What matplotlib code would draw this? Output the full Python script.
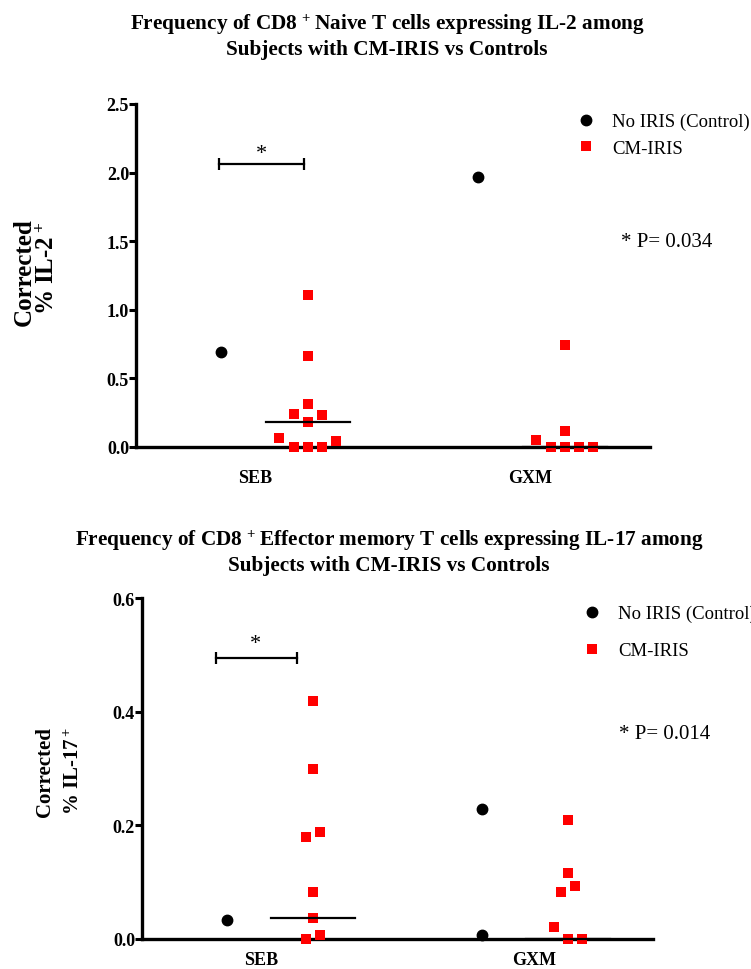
import numpy as np
import matplotlib
matplotlib.use("Agg")
import matplotlib.pyplot as plt

plt.rcParams['font.family'] = ['Liberation Serif', 'DejaVu Serif']
plt.rcParams['mathtext.default'] = 'regular'

# data
groups = ["SEB", "GXM"]

il2_control = [[0.69], [1.97]]
il2_iris = [[1.11, 0.66, 0.31, 0.24, 0.23, 0.18, 0.065, 0.045, 0.0, 0.0, 0.0],
            [0.74, 0.12, 0.05, 0.0, 0.0, 0.0, 0.0]]
il2_median = [0.18, 0.0]

il17_control = [[0.033], [0.229, 0.007]]
il17_iris = [[0.419, 0.30, 0.188, 0.18, 0.083, 0.037, 0.007, 0.0],
             [0.21, 0.116, 0.094, 0.083, 0.021, 0.0, 0.0]]
il17_median = [0.037, 0.0]


def swarm(vals, center, span, slot=0.055, thr=0.04):
    # rough graphpad-like column scatter: rows of close values spread sideways
    vals = np.asarray(vals, float)
    order = np.argsort(vals, kind="stable")
    rows = []
    for i in order:
        if rows and vals[i] - vals[rows[-1][0]] < thr * span:
            rows[-1].append(i)
        else:
            rows.append([i])
    xs = np.zeros(len(vals))
    for row in rows:
        n = len(row)
        if n % 2:
            slots = [0, 1, -1, 2, -2, 3, -3][:n]
        else:
            slots = [-0.5, 0.5, -1.5, 1.5, -2.5, 2.5][:n]
        for i, s in zip(row, slots):
            xs[i] = center + s * slot
    return xs


fig = plt.figure(figsize=(7.51, 9.70), dpi=100)

def px(x, y):
    return x / 751, 1 - y / 970


def panel(rect, ctrl, iris, med, ymax, yticks, ylabels, brk, star, ptxt, leg_y, xpad, lspace):
    ax = fig.add_axes(rect)
    ax.set_xlim(-0.5, 1.5)
    ax.set_ylim(0, ymax)
    off = 0.168
    for k in range(2):
        xc = swarm(ctrl[k], k - off, ymax)
        xi = swarm(iris[k], k + off, ymax)
        ax.plot(xc, ctrl[k], 'o', color='black', ms=7.5, clip_on=False, zorder=4,
                label="No IRIS (Control)" if k == 0 else None)
        ax.plot(xi, iris[k], 's', color='#ff0000', ms=7.5, mew=0, clip_on=False, zorder=4,
                label="CM-IRIS" if k == 0 else None)
        ax.plot([k + off - 0.164, k + off + 0.164], [med[k], med[k]], color='black',
                lw=1.6, zorder=5, clip_on=False)
    # significance bracket
    ax.plot(brk[0], [brk[1], brk[1]], color='black', lw=1.6, marker='|', ms=8, mew=1.6,
            clip_on=False)
    ax.text(star[0], star[1], "*", ha='center', va='center', fontsize=16)
    ax.text(ptxt[0], ptxt[1], ptxt[2], ha='left', va='center', fontsize=15)

    for s in ['top', 'right']:
        ax.spines[s].set_visible(False)
    for s in ['left', 'bottom']:
        ax.spines[s].set_linewidth(2.4)
    ax.set_yticks(yticks)
    ax.set_yticklabels(ylabels, fontweight='bold', fontsize=13)
    ax.tick_params(axis='y', length=5, width=2.2, pad=0)
    ax.set_xticks([-0.035, 1.035])
    ax.set_xticklabels(groups, fontweight='bold', fontsize=13)
    ax.tick_params(axis='x', length=0, pad=xpad)
    ax.legend(loc='upper left', bbox_to_anchor=leg_y, bbox_transform=fig.transFigure,
              frameon=False, fontsize=13.5, handlelength=0.6, handletextpad=1.1,
              labelspacing=lspace, borderpad=0, borderaxespad=0)
    return ax


panel([136 / 751, 1 - 448 / 970, 514 / 751, 343 / 970], il2_control, il2_iris, il2_median,
      2.5, [0, 0.5, 1.0, 1.5, 2.0, 2.5], ["0.0", "0.5", "1.0", "1.5", "2.0", "2.5"],
      ([-0.176, 0.152], 2.06), (-0.01, 2.14), (1.387, 1.50, "* P= 0.034"),
      px(580, 114), 16, 0.5)

panel([142 / 751, 1 - 940 / 970, 511 / 751, 341 / 970], il17_control, il17_iris, il17_median,
      0.6, [0, 0.2, 0.4, 0.6], ["0.0", "0.2", "0.4", "0.6"],
      ([-0.21, 0.105], 0.495), (-0.055, 0.52), (1.367, 0.361, "* P= 0.014"),
      px(586, 606), 9, 1.05)

# titles
tkw = dict(ha='center', va='center', fontweight='bold', fontsize=15.3)
fig.text(*px(387, 25), r"Frequency of CD8 $^{+}\,$Naive T cells expressing IL-2 among", **tkw)
fig.text(*px(387, 50), "Subjects with CM-IRIS vs Controls", **tkw)
fig.text(*px(389, 541), r"Frequency of CD8 $^{+}\,$Effector memory T cells expressing IL-17 among", **tkw)
fig.text(*px(389, 566), "Subjects with CM-IRIS vs Controls", **tkw)

# y labels
lkw = dict(rotation=90, ha='center', va='top', fontweight='bold')
fig.text(*px(24, 218), "Corrected", fontsize=18, **lkw)
fig.text(*px(47, 222), "% IL-2$^+$", fontsize=18, **lkw)
fig.text(*px(45, 727), "Corrected", fontsize=15, **lkw)
fig.text(*px(74, 727), "% IL-17$^+$", fontsize=15, **lkw)

fig.savefig("out.png", dpi=100)
